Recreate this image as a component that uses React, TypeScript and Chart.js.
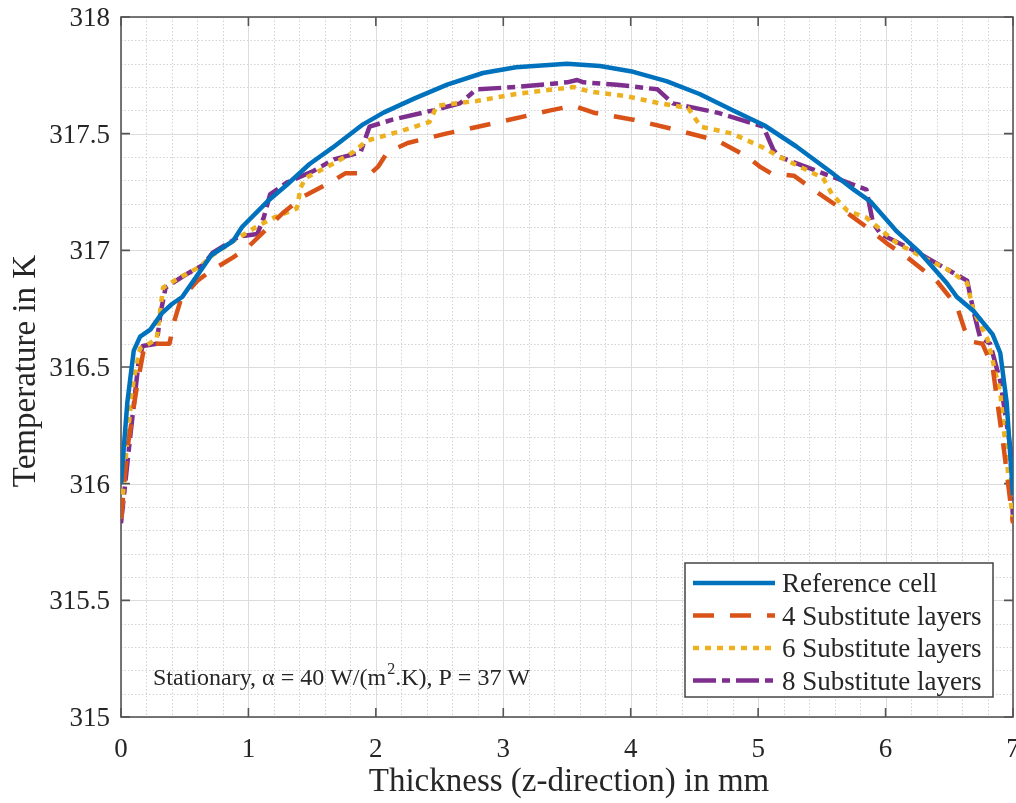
import React, { useEffect, useRef } from "react";
import { Chart, registerables } from "chart.js";

Chart.register(...registerables);

// ---------------- DATA ----------------
const refX = [0, 0.05, 0.1, 0.15, 0.23, 0.32, 0.4, 0.48, 0.57, 0.71, 0.88, 0.95, 1.15, 1.3, 1.48, 1.66, 1.9, 2.06, 2.3, 2.56, 2.84, 3.1, 3.5, 3.76, 4.02, 4.28, 4.54, 4.8, 5.05, 5.3, 5.56, 5.75, 5.88, 6.09, 6.27, 6.48, 6.56, 6.69, 6.84, 6.9, 6.95, 7.0];
const refT = [316.0, 316.35, 316.57, 316.63, 316.66, 316.73, 316.77, 316.8, 316.87, 316.98, 317.04, 317.1, 317.21, 317.28, 317.37, 317.44, 317.54, 317.59, 317.65, 317.71, 317.76, 317.785, 317.8, 317.79, 317.765, 317.725, 317.67, 317.6, 317.535, 317.445, 317.34, 317.26, 317.21, 317.08, 316.99, 316.86, 316.8, 316.74, 316.64, 316.56, 316.35, 315.95];

const sub4X = [0, 0.05, 0.12, 0.18, 0.24, 0.38, 0.42, 0.47, 0.6, 0.7, 0.88, 0.99, 1.27, 1.43, 1.67, 1.76, 1.96, 2.02, 2.09, 2.25, 2.55, 2.97, 3.37, 3.55, 3.71, 4.02, 4.33, 4.68, 4.92, 5.01, 5.1, 5.28, 5.46, 5.7, 5.85, 6.01, 6.17, 6.4, 6.56, 6.62, 6.66, 6.76, 6.84, 6.93, 7.0];
const sub4T = [315.85, 316.15, 316.4, 316.58, 316.6, 316.6, 316.7, 316.79, 316.87, 316.91, 316.97, 317.01, 317.16, 317.23, 317.3, 317.33, 317.33, 317.36, 317.42, 317.46, 317.5, 317.55, 317.6, 317.62, 317.59, 317.56, 317.52, 317.47, 317.4, 317.36, 317.33, 317.32, 317.25, 317.16, 317.1, 317.03, 316.97, 316.87, 316.76, 316.66, 316.61, 316.6, 316.5, 316.14, 315.83];

const sub6X = [0, 0.05, 0.1, 0.15, 0.22, 0.28, 0.33, 0.45, 0.62, 0.72, 0.88, 1.06, 1.2, 1.38, 1.41, 1.45, 1.66, 1.82, 1.93, 2.19, 2.42, 2.48, 2.79, 3.1, 3.55, 3.68, 3.97, 4.23, 4.45, 4.55, 4.8, 5.04, 5.17, 5.51, 5.58, 5.7, 5.85, 6.09, 6.33, 6.48, 6.64, 6.69, 6.8, 6.9, 7.0];
const sub6T = [315.85, 316.2, 316.45, 316.58, 316.6, 316.62, 316.84, 316.88, 316.93, 316.98, 317.04, 317.1, 317.14, 317.18, 317.27, 317.31, 317.37, 317.42, 317.47, 317.51, 317.55, 317.62, 317.64, 317.67, 317.7, 317.68, 317.66, 317.63, 317.61, 317.53, 317.5, 317.44, 317.4, 317.31, 317.24, 317.17, 317.14, 317.03, 316.96, 316.92, 316.86, 316.74, 316.62, 316.39, 315.83];

const sub8X = [0, 0.07, 0.14, 0.17, 0.28, 0.31, 0.35, 0.49, 0.65, 0.72, 0.93, 1.07, 1.12, 1.17, 1.3, 1.51, 1.67, 1.88, 1.95, 2.13, 2.45, 2.66, 2.79, 3.1, 3.5, 3.58, 3.63, 3.89, 4.21, 4.33, 4.68, 5.04, 5.12, 5.17, 5.51, 5.85, 5.9, 5.96, 6.22, 6.64, 6.69, 6.74, 6.82, 6.9, 6.98, 7.0];
const sub8T = [315.83, 316.19, 316.53, 316.59, 316.6, 316.73, 316.84, 316.89, 316.94, 316.99, 317.06, 317.07, 317.14, 317.24, 317.29, 317.34, 317.39, 317.42, 317.53, 317.56, 317.6, 317.63, 317.69, 317.7, 317.72, 317.73, 317.72, 317.71, 317.69, 317.63, 317.59, 317.53, 317.43, 317.4, 317.33, 317.26, 317.12, 317.07, 317.0, 316.87, 316.74, 316.63, 316.6, 316.44, 316.15, 315.84];

const seriesLabels = ["Reference cell", "4 Substitute layers", "6 Substitute layers", "8 Substitute layers"];

const xMajorTicks = [0, 1, 2, 3, 4, 5, 6, 7];
const xTickLabels = ["0", "1", "2", "3", "4", "5", "6", "7"];
const yMajorTicks = [315, 315.5, 316, 316.5, 317, 317.5, 318];
const yTickLabels = ["315", "315.5", "316", "316.5", "317", "317.5", "318"];
const xMinorTicks = [0.2, 0.4, 0.6, 0.8, 1.2, 1.4, 1.6, 1.8, 2.2, 2.4, 2.6, 2.8, 3.2, 3.4, 3.6, 3.8, 4.2, 4.4, 4.6, 4.8, 5.2, 5.4, 5.6, 5.8, 6.2, 6.4, 6.6, 6.8];
const yMinorTicks = [315.1, 315.2, 315.3, 315.4, 315.6, 315.7, 315.8, 315.9, 316.1, 316.2, 316.3, 316.4, 316.6, 316.7, 316.8, 316.9, 317.1, 317.2, 317.3, 317.4, 317.6, 317.7, 317.8, 317.9];

const xTitle = "Thickness (z-direction) in mm";
const yTitle = "Temperature in K";
const noteBefore = "Stationary, \u03b1 = 40 W/(m";
const noteSup = "2";
const noteAfter = ".K), P = 37 W";

// ---------------- STYLE ----------------
const COLORS = ["#0072BD", "#D95319", "#EDB120", "#7E2F8E"];
const DASHES: number[][] = [[], [21, 16], [6, 6], [23, 6, 8, 6]];
const LINE_W = 4.5;
const FONT = "'Liberation Serif', 'Times New Roman', serif";
const TEXT = "#262626";

const toPts = (xs: number[], ys: number[]) => xs.map((x, i) => ({ x, y: ys[i] }));

const gridPlugin = {
  id: "matlabGrid",
  beforeDatasetsDraw(chart: any) {
    const { ctx, chartArea, scales } = chart;
    const { left, right, top, bottom } = chartArea;
    const xs = scales.x;
    const ys = scales.y;
    ctx.save();
    ctx.lineWidth = 1;
    // minor grid (dotted)
    ctx.strokeStyle = "#d2d2d2";
    ctx.setLineDash([1.5, 2]);
    ctx.beginPath();
    for (const v of xMinorTicks) {
      const p = Math.round(xs.getPixelForValue(v)) + 0.5;
      ctx.moveTo(p, top);
      ctx.lineTo(p, bottom);
    }
    for (const v of yMinorTicks) {
      const p = Math.round(ys.getPixelForValue(v)) + 0.5;
      ctx.moveTo(left, p);
      ctx.lineTo(right, p);
    }
    ctx.stroke();
    // major grid (solid)
    ctx.setLineDash([]);
    ctx.strokeStyle = "#dcdcdc";
    ctx.beginPath();
    for (const v of xMajorTicks) {
      const p = Math.round(xs.getPixelForValue(v)) + 0.5;
      ctx.moveTo(p, top);
      ctx.lineTo(p, bottom);
    }
    for (const v of yMajorTicks) {
      const p = Math.round(ys.getPixelForValue(v)) + 0.5;
      ctx.moveTo(left, p);
      ctx.lineTo(right, p);
    }
    ctx.stroke();
    // frame
    ctx.strokeStyle = "#555555";
    ctx.lineWidth = 1.6;
    ctx.strokeRect(left, top, right - left, bottom - top);
    // inward ticks
    const tl = 9;
    ctx.beginPath();
    for (const v of xMajorTicks) {
      const p = xs.getPixelForValue(v);
      ctx.moveTo(p, bottom);
      ctx.lineTo(p, bottom - tl);
      ctx.moveTo(p, top);
      ctx.lineTo(p, top + tl);
    }
    for (const v of yMajorTicks) {
      const p = ys.getPixelForValue(v);
      ctx.moveTo(left, p);
      ctx.lineTo(left + tl, p);
      ctx.moveTo(right, p);
      ctx.lineTo(right - tl, p);
    }
    ctx.stroke();
    ctx.restore();
  },
  afterDraw(chart: any) {
    const { ctx, chartArea, scales } = chart;
    const { left, right, top, bottom } = chartArea;
    const xs = scales.x;
    const ys = scales.y;
    ctx.save();
    ctx.fillStyle = TEXT;
    // tick labels
    ctx.font = `27px ${FONT}`;
    ctx.textBaseline = "alphabetic";
    ctx.textAlign = "center";
    xMajorTicks.forEach((v, i) => {
      ctx.fillText(xTickLabels[i], xs.getPixelForValue(v), bottom + 40);
    });
    ctx.textAlign = "right";
    yMajorTicks.forEach((v, i) => {
      ctx.fillText(yTickLabels[i], left - 11, ys.getPixelForValue(v) + 9);
    });
    // axis titles
    ctx.font = `33px ${FONT}`;
    ctx.textAlign = "center";
    ctx.fillText(xTitle, (left + right) / 2 + 2, bottom + 74);
    ctx.save();
    ctx.translate(35, (top + bottom) / 2 + 4);
    ctx.rotate(-Math.PI / 2);
    ctx.fillText(yTitle, 0, 0);
    ctx.restore();
    // annotation
    ctx.textAlign = "left";
    ctx.font = `24px ${FONT}`;
    let ax = 153;
    const ay = 685;
    ctx.fillText(noteBefore, ax, ay);
    ax += ctx.measureText(noteBefore).width + 1;
    ctx.font = `16px ${FONT}`;
    ctx.fillText(noteSup, ax, ay - 11);
    ax += ctx.measureText(noteSup).width;
    ctx.font = `24px ${FONT}`;
    ctx.fillText(noteAfter, ax, ay);
    // legend
    const lx0 = 685, ly0 = 563, lx1 = 993, ly1 = 697;
    ctx.fillStyle = "#ffffff";
    ctx.fillRect(lx0, ly0, lx1 - lx0, ly1 - ly0);
    ctx.strokeStyle = "#444444";
    ctx.lineWidth = 1.5;
    ctx.strokeRect(lx0, ly0, lx1 - lx0, ly1 - ly0);
    ctx.font = `27px ${FONT}`;
    ctx.textAlign = "left";
    chart.data.datasets.forEach((ds: any, i: number) => {
      const cy = 583 + i * 32.5;
      ctx.save();
      ctx.strokeStyle = ds.borderColor;
      ctx.lineWidth = LINE_W;
      ctx.setLineDash(ds.borderDash || []);
      ctx.lineCap = "butt";
      ctx.beginPath();
      ctx.moveTo(693, cy);
      ctx.lineTo(775, cy);
      ctx.stroke();
      ctx.restore();
      ctx.fillStyle = TEXT;
      ctx.fillText(ds.label, 782, cy + 9);
    });
    ctx.restore();
  },
};

export default function App() {
  const canvasRef = useRef<HTMLCanvasElement | null>(null);

  useEffect(() => {
    if (!canvasRef.current) return;
    const series = [
      toPts(refX, refT),
      toPts(sub4X, sub4T),
      toPts(sub6X, sub6T),
      toPts(sub8X, sub8T),
    ];
    const chart = new Chart(canvasRef.current, {
      type: "line",
      data: {
        datasets: series.map((pts, i) => ({
          label: seriesLabels[i],
          data: pts,
          borderColor: COLORS[i],
          backgroundColor: COLORS[i],
          borderWidth: LINE_W,
          borderDash: DASHES[i],
          borderCapStyle: "butt",
          borderJoinStyle: "round",
          pointRadius: 0,
          tension: 0,
          fill: false,
        })),
      },
      options: {
        animation: false,
        responsive: false,
        devicePixelRatio: 1,
        layout: { padding: { left: 121, top: 17, right: 3, bottom: 86 } },
        plugins: { legend: { display: false }, tooltip: { enabled: false } },
        scales: {
          x: { type: "linear", min: 0, max: 7, display: false },
          y: { type: "linear", min: 315, max: 318, display: false },
        },
      },
      plugins: [gridPlugin],
    } as any);
    return () => chart.destroy();
  }, []);

  return (
    <div style={{ position: "fixed", left: 0, top: 0, width: 1016, height: 803, background: "#ffffff" }}>
      <canvas ref={canvasRef} width={1016} height={803} style={{ display: "block" }} />
    </div>
  );
}
